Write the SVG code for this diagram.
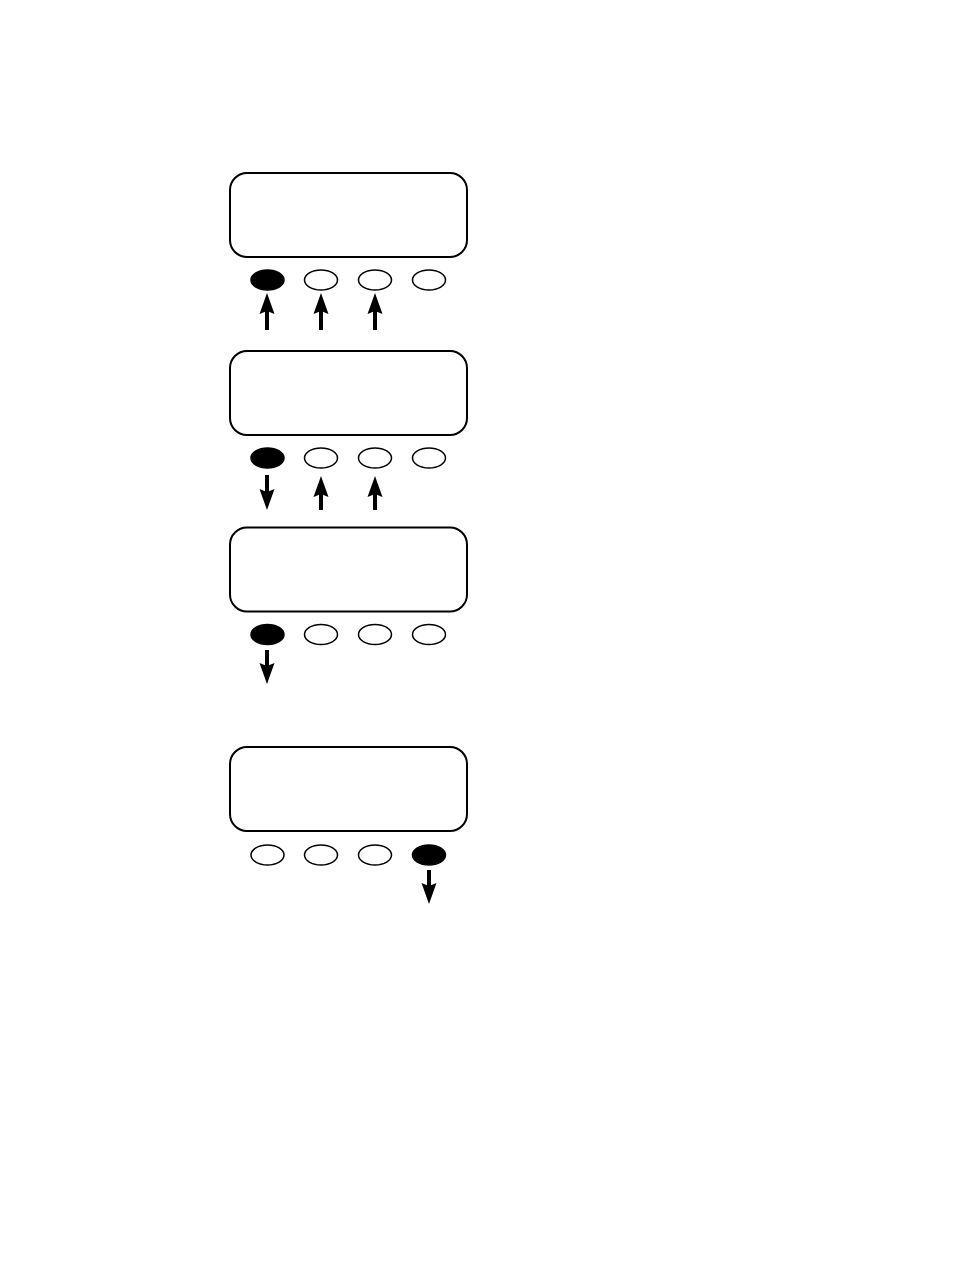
<svg xmlns="http://www.w3.org/2000/svg" width="954" height="1272" viewBox="0 0 954 1272">
<defs>
<style>
.panel{fill:#fff;stroke:#000;stroke-width:2}
.btn{fill:#fff;stroke:#000;stroke-width:1.5}
.on{fill:#000;stroke:#000;stroke-width:1.5}
.arr{stroke:#000;stroke-width:4;fill:none}
</style>
<marker id="ah" markerUnits="userSpaceOnUse" markerWidth="24" markerHeight="18" refX="7" refY="8" orient="auto">
<path d="M0,0.5 L21,8 L0,15.5 L3,8 Z" fill="#000"/>
</marker>
</defs>
<rect width="954" height="1272" fill="#fff"/>
<g id="screen1">
<rect class="panel" x="230" y="173" width="237" height="84" rx="17"/>
<ellipse class="on" cx="267.5" cy="280" rx="16.5" ry="10"/>
<ellipse class="btn" cx="321" cy="280" rx="16.5" ry="10"/>
<ellipse class="btn" cx="375" cy="280" rx="16.5" ry="10"/>
<ellipse class="btn" cx="429" cy="280" rx="16.5" ry="10"/>
</g>
<g id="screen2">
<rect class="panel" x="230" y="351" width="237" height="84" rx="17"/>
<ellipse class="on" cx="267.5" cy="458" rx="16.5" ry="10"/>
<ellipse class="btn" cx="321" cy="458" rx="16.5" ry="10"/>
<ellipse class="btn" cx="375" cy="458" rx="16.5" ry="10"/>
<ellipse class="btn" cx="429" cy="458" rx="16.5" ry="10"/>
</g>
<g id="screen3">
<rect class="panel" x="230" y="527.5" width="237" height="84" rx="17"/>
<ellipse class="on" cx="267.5" cy="634.5" rx="16.5" ry="10"/>
<ellipse class="btn" cx="321" cy="634.5" rx="16.5" ry="10"/>
<ellipse class="btn" cx="375" cy="634.5" rx="16.5" ry="10"/>
<ellipse class="btn" cx="429" cy="634.5" rx="16.5" ry="10"/>
</g>
<g id="screen4">
<rect class="panel" x="230" y="747" width="237" height="84" rx="17"/>
<ellipse class="btn" cx="267.5" cy="855" rx="16.5" ry="10"/>
<ellipse class="btn" cx="321" cy="855" rx="16.5" ry="10"/>
<ellipse class="btn" cx="375" cy="855" rx="16.5" ry="10"/>
<ellipse class="on" cx="429" cy="855" rx="16.5" ry="10"/>
</g>
<g id="connectors">
<line class="arr" x1="267" y1="330" x2="267" y2="307" marker-end="url(#ah)"/>
<line class="arr" x1="321" y1="330" x2="321" y2="307" marker-end="url(#ah)"/>
<line class="arr" x1="375" y1="330" x2="375" y2="307" marker-end="url(#ah)"/>
<line class="arr" x1="267" y1="475" x2="267" y2="496" marker-end="url(#ah)"/>
<line class="arr" x1="321" y1="510" x2="321" y2="490" marker-end="url(#ah)"/>
<line class="arr" x1="375" y1="510" x2="375" y2="490" marker-end="url(#ah)"/>
<line class="arr" x1="267" y1="650" x2="267" y2="670" marker-end="url(#ah)"/>
<line class="arr" x1="429" y1="870" x2="429" y2="890" marker-end="url(#ah)"/>
</g>
</svg>
